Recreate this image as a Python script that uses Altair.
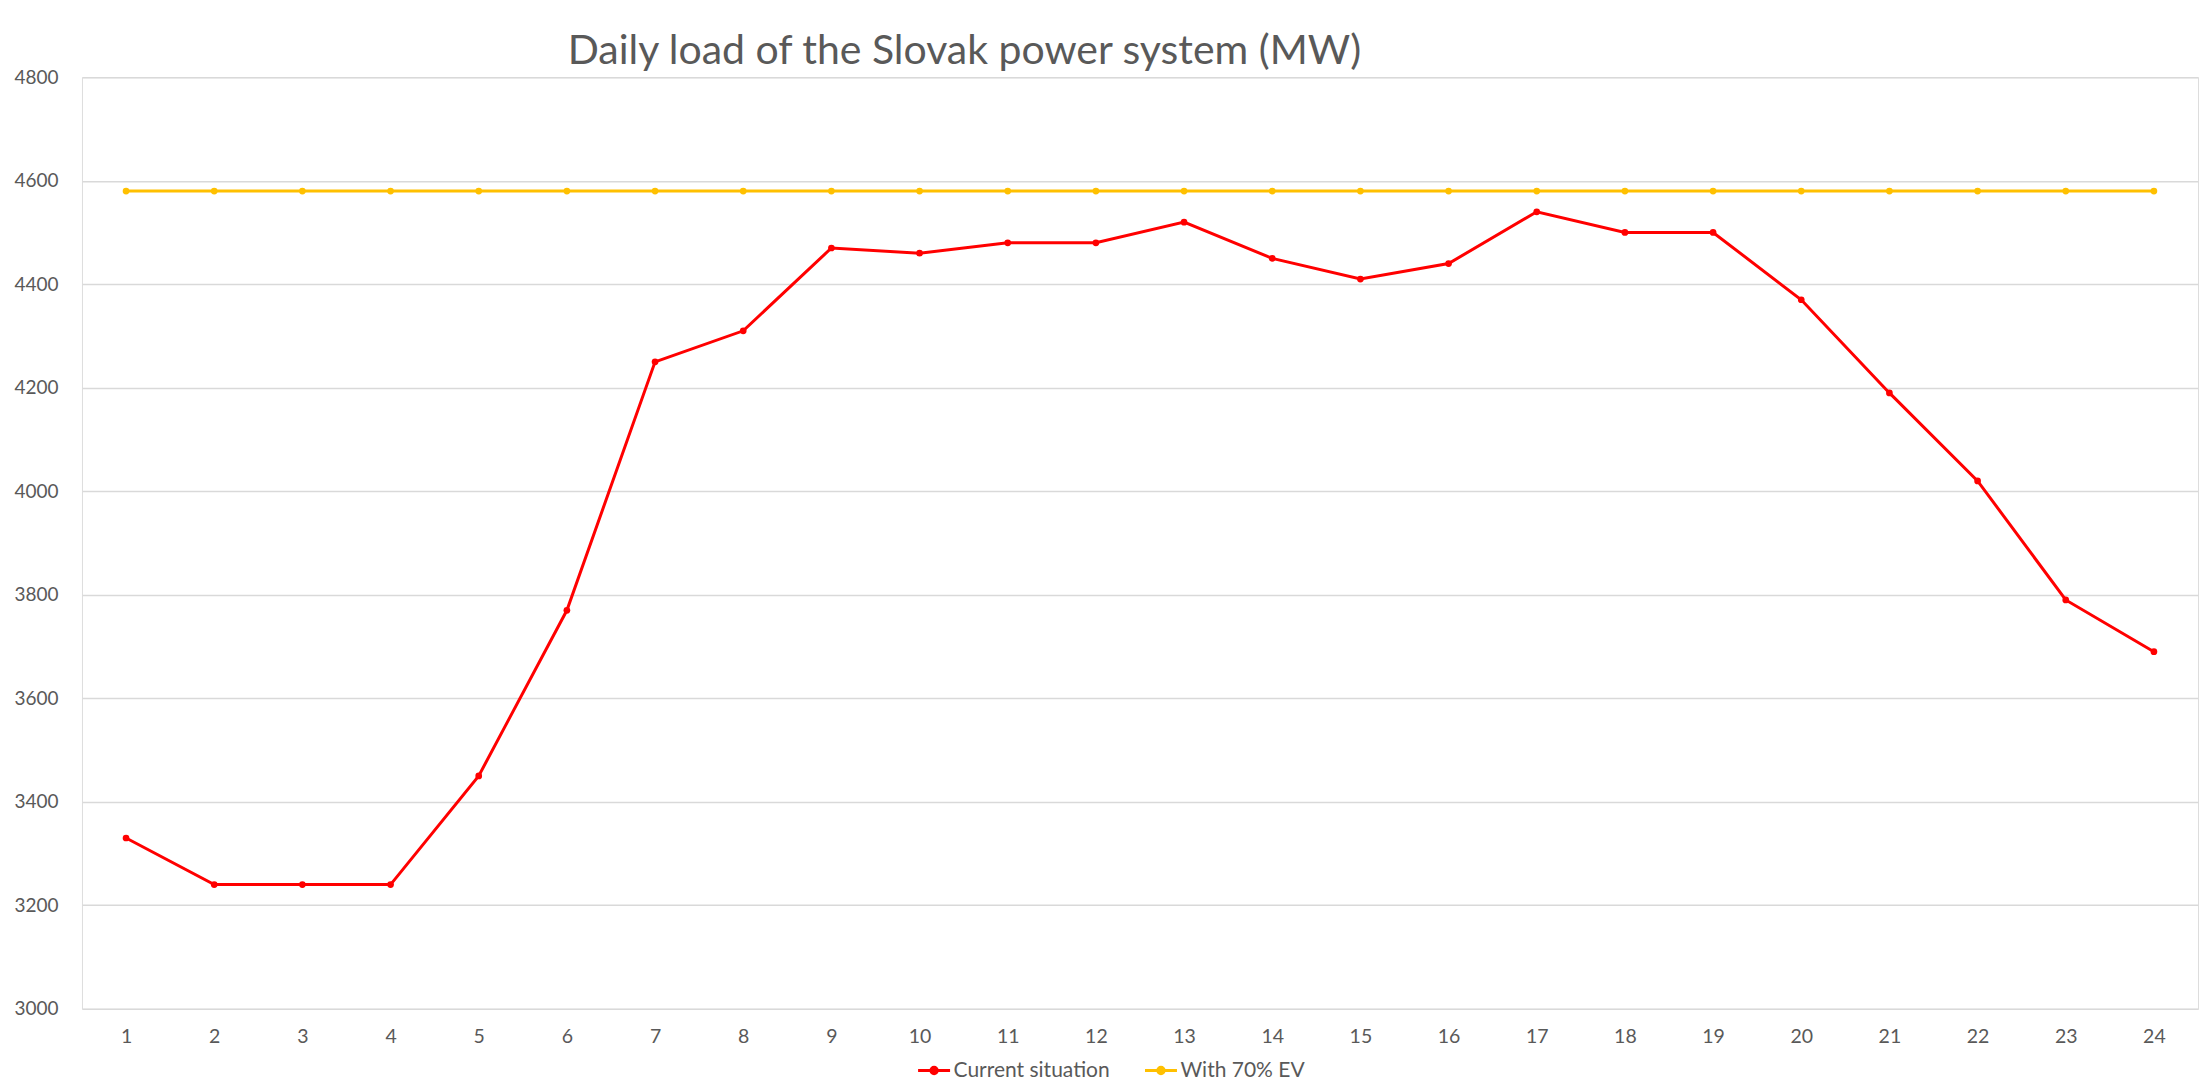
import altair as alt
import pandas as pd

hours = list(range(1, 25))
current = [3330, 3240, 3240, 3240, 3450, 3770, 4250, 4310, 4470, 4460, 4480, 4480,
           4520, 4450, 4410, 4440, 4540, 4500, 4500, 4370, 4190, 4020, 3790, 3690]
with_ev = [4580] * 24
series_names = ["Current situation", "With 70% EV"]
series_colors = ["#FF0000", "#FFC000"]
y_ticks = list(range(3000, 4801, 200))

rows = []
for h, c, e in zip(hours, current, with_ev):
    rows.append({"hour": h, "load": c, "series": series_names[0]})
    rows.append({"hour": h, "load": e, "series": series_names[1]})
df = pd.DataFrame(rows)

FONT = "Lato"
GRAY = "#595959"

legend_symbol = "M-1,0L1,0M-0.2,0A0.2,0.2,0,1,1,0.2,0A0.2,0.2,0,1,1,-0.2,0"

base = alt.Chart(df).encode(
    x=alt.X("hour:O", title=None,
            axis=alt.Axis(labelAngle=0, domain=False, ticks=False, grid=False,
                          labelFontSize=19.5, labelColor=GRAY, labelFont=FONT,
                          labelPadding=19)),
    y=alt.Y("load:Q", title=None,
            scale=alt.Scale(domain=[3000, 4800], nice=False, zero=False),
            axis=alt.Axis(values=y_ticks, format="d", domain=False, ticks=False,
                          tickSize=0, gridColor="#D9D9D9", gridWidth=1.5,
                          labelFontSize=19, labelColor=GRAY, labelFont=FONT,
                          labelPadding=24)),
    color=alt.Color("series:N", title=None,
                    scale=alt.Scale(domain=series_names, range=series_colors),
                    legend=alt.Legend(orient="none", direction="horizontal",
                                      legendX=835, legendY=976,
                                      symbolType=legend_symbol, symbolSize=1024,
                                      symbolStrokeWidth=3,
                                      labelFontSize=21, labelColor=GRAY,
                                      labelFont=FONT, columnPadding=28,
                                      labelOffset=2)),
)

lines = base.mark_line(strokeWidth=3)
points = base.mark_circle(size=45, opacity=1)

chart = alt.layer(lines, points).properties(
    width=2117,
    height=932,
    padding={"left": 5, "top": 23, "right": 5, "bottom": 5},
    title=alt.TitleParams(
        "Daily load of the Slovak power system (MW)",
        anchor="start", dx=554, fontSize=41, font=FONT, fontWeight="normal",
        color=GRAY, offset=-5,
    ),
).configure_view(stroke=None).configure(background="white")

chart.save("out.html", embed_options={"renderer": "svg", "actions": False})
